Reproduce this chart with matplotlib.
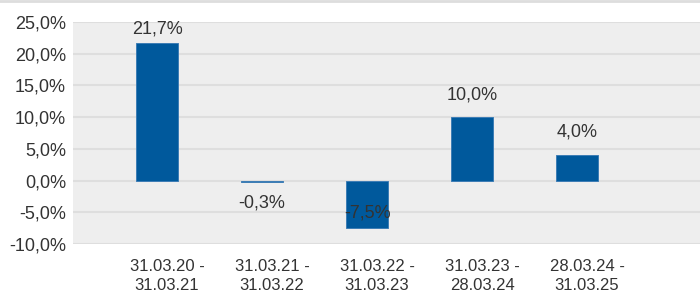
import matplotlib
matplotlib.use("Agg")
import matplotlib.pyplot as plt
import matplotlib.transforms as mtransforms
from matplotlib.ticker import FuncFormatter

categories = ["31.03.20 -\n31.03.21", "31.03.21 -\n31.03.22", "31.03.22 -\n31.03.23",
              "31.03.23 -\n28.03.24", "28.03.24 -\n31.03.25"]
values = [21.7, -0.3, -7.5, 10.0, 4.0]
value_labels = ["21,7%", "-0,3%", "-7,5%", "10,0%", "4,0%"]
label_offsets = [10, -15, 11, 16, 16.5]  # points

plt.rcParams['font.family'] = ['Liberation Sans', 'DejaVu Sans']

fig = plt.figure(figsize=(7, 2.93), dpi=100)
W, H = 700, 293
ax = fig.add_axes([73 / W, (H - 244) / H, 1 - 73 / W, (244 - 22) / H])
ax.set_facecolor('#eeeeee')

x = list(range(len(categories)))
ax.bar(x, values, width=0.4, color='#00599c', edgecolor='#3d7db5', linewidth=0.7, zorder=3)

for xi, v, lab, off in zip(x, values, value_labels, label_offsets):
    ax.annotate(lab, (xi, v), xytext=(0, off), textcoords='offset points',
                ha='center', va='center', fontsize=13, color='#333333', zorder=4)

ax.set_ylim(-10, 25)
ax.set_yticks([-10, -5, 0, 5, 10, 15, 20, 25])
ax.yaxis.set_major_formatter(FuncFormatter(lambda v, p: f"{v:.1f}%".replace('.', ',')))
ax.set_xlim(-0.8, 5.17)
ax.set_xticks(x)
ax.set_xticklabels(categories)
ax.grid(axis='y', color='#dedede', linewidth=1.5, zorder=1)
ax.tick_params(axis='both', length=0, labelcolor='#333333')
ax.tick_params(axis='y', pad=5, labelsize=13)
ax.tick_params(axis='x', pad=11, labelsize=12)
shift = mtransforms.ScaledTranslation(10 / 100, 0, fig.dpi_scale_trans)
for lbl in ax.get_xticklabels():
    lbl.set_linespacing(1.3)
    lbl.set_transform(lbl.get_transform() + shift)
for s in ax.spines.values():
    s.set_visible(False)

fig.add_artist(plt.Line2D([0, 1], [1 - 1 / H, 1 - 1 / H], color='#dddddd', linewidth=2,
                          transform=fig.transFigure))

fig.savefig("out.png", dpi=100)
